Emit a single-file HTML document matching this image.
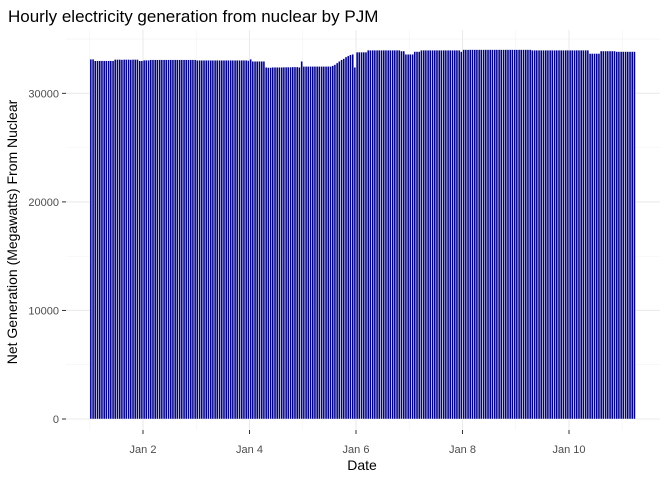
<!DOCTYPE html>
<html><head><meta charset="utf-8"><style>
body{margin:0;background:#fff;}
svg{display:block;font-family:"Liberation Sans",sans-serif;}
</style></head><body>
<svg id="chart" width="672" height="480">
<text x="8" y="22" font-size="17" fill="#000">Hourly electricity generation from nuclear by PJM</text>
<g id="grid"></g>
<g id="bars"></g>
<g id="axes"></g>
<text x="362" y="470" font-size="14" text-anchor="middle" fill="#000">Date</text>
<text transform="translate(17,232) rotate(-90)" font-size="14" text-anchor="middle" fill="#000">Net Generation (Megawatts) From Nuclear</text>
</svg>
<script>
const yTicks=[0,10000,20000,30000];
const yTickLabels=["0","10000","20000","30000"];
const xTickDays=[2,4,6,8,10];
const xTickLabels=["Jan  2","Jan  4","Jan  6","Jan  8","Jan 10"];
const startDay=1;
const values=[
33150,33150,33000,33000,33000,33010,33000,33000,33000,33010,33000,33120,
33120,33120,33110,33120,33120,33120,33110,33120,33120,33120,33000,33000,
33060,33060,33060,33100,33100,33100,33100,33100,33100,33100,33100,33100,
33100,33100,33100,33100,33100,33100,33100,33100,33100,33100,33100,33100,
33050,33050,33050,33050,33050,33050,33050,33050,33050,33050,33050,33050,
33050,33050,33050,33050,33050,33050,33050,33050,33050,33050,33050,33020,
33150,32950,32950,32950,32950,32950,32950,32400,32380,32380,32400,32400,
32400,32400,32400,32420,32420,32420,32420,32430,32430,32430,32400,32950,
32480,32480,32480,32480,32480,32480,32480,32480,32480,32480,32480,32480,
32480,32550,32650,32800,32950,33100,33200,33350,33450,33550,33600,32400,
33800,33800,33800,33800,33800,33980,33980,33980,33980,33980,33980,33980,
33980,33980,33980,33980,33980,33980,33980,33980,33900,33900,33600,33600,
33600,33600,33850,33850,33850,33980,33980,33980,33980,33980,33980,33980,
33980,33980,33980,33980,33980,33980,33980,33980,33980,33980,33980,33850,
34030,34030,34030,34030,34030,34030,34030,34030,34030,34030,34030,34030,
34030,34030,34030,34030,34030,34030,34030,34030,34030,34030,34030,34030,
34030,34030,34030,34030,34030,34030,34030,33980,33980,33980,33980,33980,
33980,33980,33980,33980,33980,33980,33980,33980,33980,33980,33980,33980,
33980,33980,33980,33980,33980,33980,33980,33980,33980,33670,33670,33670,
33670,33670,33900,33900,33900,33900,33900,33900,33900,33850,33850,33850,
33850,33850,33850,33850,33850,33850
];
const NS="http://www.w3.org/2000/svg";
const L=66,R=660,T=30,B=430;
const x0=89.75, dayPx=53.25;
function xDay(d){return x0+(d-startDay)*dayPx;}
function xHour(h){return x0+h*dayPx/24;}
function yScale(v){return 419-v*0.010855;}
function mk(tag,attrs,parent){const e=document.createElementNS(NS,tag);for(const k in attrs)e.setAttribute(k,attrs[k]);parent.appendChild(e);return e;}
const grid=document.getElementById('grid'),bars=document.getElementById('bars'),axes=document.getElementById('axes');
for(let i=0;i<yTicks.length;i++){
  const v=yTicks[i]+5000;
  const l=mk('line',{x1:L,x2:R,y1:yScale(v),y2:yScale(v),stroke:'#f3f3f3','stroke-width':0.6},grid);
  
  
}
for(let i=0;i<yTicks.length;i++){
  const y=yScale(yTicks[i]);
  const l=mk('line',{x1:L,x2:R,y1:y,y2:y,stroke:'#ebebeb','stroke-width':1.1},grid);
  
  
  const t=mk('line',{x1:62,x2:66,y1:y,y2:y,stroke:'#333','stroke-width':1},axes);
  
  
  const tx=mk('text',{x:59,y:y+4,'font-size':11,'text-anchor':'end',fill:'#4d4d4d'},axes);
  tx.textContent=yTickLabels[i];
  
  
}
for(let i=0;i<xTickDays.length;i++){
  const xm=xDay(xTickDays[i]-1);
  const m=mk('line',{x1:xm,x2:xm,y1:T,y2:B,stroke:'#f3f3f3','stroke-width':0.6},grid);
  
  
  const x=xDay(xTickDays[i]);
  const l=mk('line',{x1:x,x2:x,y1:T,y2:B,stroke:'#ebebeb','stroke-width':1.1},grid);
  
  
  const t=mk('line',{x1:x,x2:x,y1:430,y2:434,stroke:'#333','stroke-width':1},axes);
  
  
  const tx=mk('text',{x:x,y:453,'font-size':11,'text-anchor':'middle',fill:'#4d4d4d','xml:space':'preserve'},axes);
  tx.textContent=xTickLabels[i];
  
  
}
{const m=mk('line',{x1:xDay(11),x2:xDay(11),y1:T,y2:B,stroke:'#f3f3f3','stroke-width':0.6},grid);

}
const bw=dayPx/24;
for(let h=0;h<values.length;h++){
  const y=yScale(values[h]);
  const r=mk('rect',{x:xHour(h)+bw*0.05,y:y,width:bw*0.9,height:yScale(0)-y,fill:'#00008b',stroke:'#ffffff','stroke-width':0.4},bars);
  
  
}
</script>
</body></html>
